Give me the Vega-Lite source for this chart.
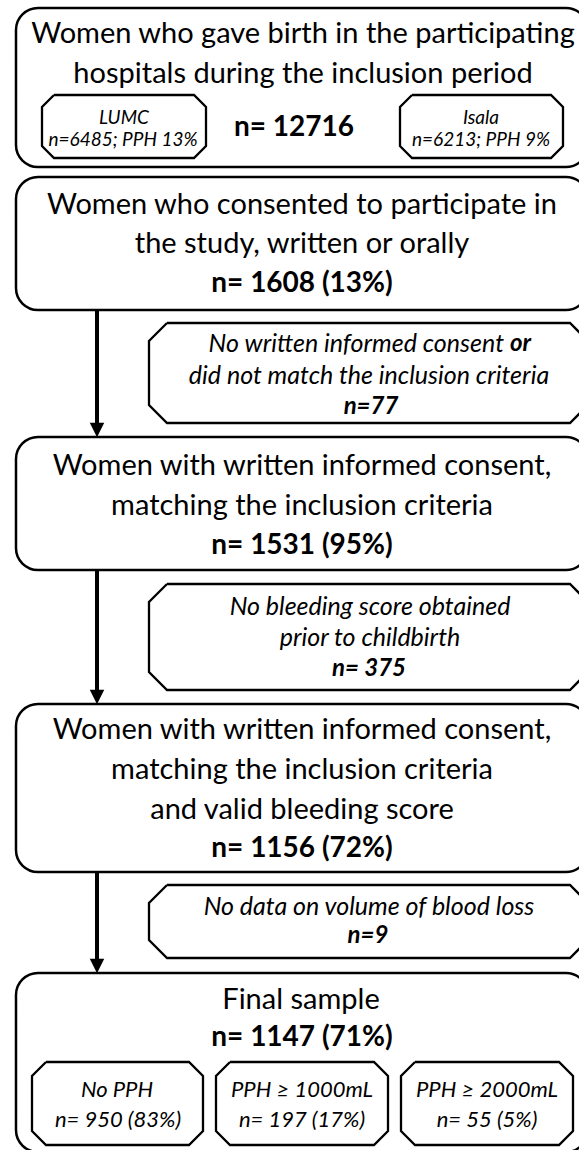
{
  "$schema": "https://vega.github.io/schema/vega-lite/v6.json",
  "width": 579,
  "height": 1150,
  "autosize": {"type": "fit", "contains": "padding"},
  "padding": 0,
  "background": "white",
  "config": {"view": {"stroke": null}, "font": "Lato"},
  "datasets": {
    "boxes": [
      {"id": "b1", "x1": 16, "x2": 588, "y1": 8, "y2": 167},
      {"id": "b2", "x1": 16, "x2": 588, "y1": 177, "y2": 310},
      {"id": "b3", "x1": 16, "x2": 588, "y1": 437, "y2": 570},
      {"id": "b4", "x1": 16, "x2": 588, "y1": 704, "y2": 872},
      {"id": "b5", "x1": 16, "x2": 588, "y1": 973, "y2": 1152}
    ],
    "octs": [
      {"id": "lumc", "k": 0, "x": 54, "y": 95}, {"id": "lumc", "k": 1, "x": 194, "y": 95}, {"id": "lumc", "k": 2, "x": 206, "y": 107}, {"id": "lumc", "k": 3, "x": 206, "y": 146}, {"id": "lumc", "k": 4, "x": 194, "y": 158}, {"id": "lumc", "k": 5, "x": 54, "y": 158}, {"id": "lumc", "k": 6, "x": 42, "y": 146}, {"id": "lumc", "k": 7, "x": 42, "y": 107}, {"id": "lumc", "k": 8, "x": 54, "y": 95},
      {"id": "isala", "k": 0, "x": 412, "y": 95}, {"id": "isala", "k": 1, "x": 551, "y": 95}, {"id": "isala", "k": 2, "x": 563, "y": 107}, {"id": "isala", "k": 3, "x": 563, "y": 146}, {"id": "isala", "k": 4, "x": 551, "y": 158}, {"id": "isala", "k": 5, "x": 412, "y": 158}, {"id": "isala", "k": 6, "x": 400, "y": 146}, {"id": "isala", "k": 7, "x": 400, "y": 107}, {"id": "isala", "k": 8, "x": 412, "y": 95},
      {"id": "o2", "k": 0, "x": 167, "y": 323}, {"id": "o2", "k": 1, "x": 570, "y": 323}, {"id": "o2", "k": 2, "x": 588, "y": 341}, {"id": "o2", "k": 3, "x": 588, "y": 405}, {"id": "o2", "k": 4, "x": 570, "y": 423}, {"id": "o2", "k": 5, "x": 167, "y": 423}, {"id": "o2", "k": 6, "x": 149, "y": 405}, {"id": "o2", "k": 7, "x": 149, "y": 341}, {"id": "o2", "k": 8, "x": 167, "y": 323},
      {"id": "o3", "k": 0, "x": 167, "y": 584}, {"id": "o3", "k": 1, "x": 570, "y": 584}, {"id": "o3", "k": 2, "x": 588, "y": 602}, {"id": "o3", "k": 3, "x": 588, "y": 672}, {"id": "o3", "k": 4, "x": 570, "y": 690}, {"id": "o3", "k": 5, "x": 167, "y": 690}, {"id": "o3", "k": 6, "x": 149, "y": 672}, {"id": "o3", "k": 7, "x": 149, "y": 602}, {"id": "o3", "k": 8, "x": 167, "y": 584},
      {"id": "o4", "k": 0, "x": 167, "y": 885}, {"id": "o4", "k": 1, "x": 570, "y": 885}, {"id": "o4", "k": 2, "x": 588, "y": 903}, {"id": "o4", "k": 3, "x": 588, "y": 940}, {"id": "o4", "k": 4, "x": 570, "y": 958}, {"id": "o4", "k": 5, "x": 167, "y": 958}, {"id": "o4", "k": 6, "x": 149, "y": 940}, {"id": "o4", "k": 7, "x": 149, "y": 903}, {"id": "o4", "k": 8, "x": 167, "y": 885},
      {"id": "f1", "k": 0, "x": 46, "y": 1062}, {"id": "f1", "k": 1, "x": 189, "y": 1062}, {"id": "f1", "k": 2, "x": 203, "y": 1076}, {"id": "f1", "k": 3, "x": 203, "y": 1131}, {"id": "f1", "k": 4, "x": 189, "y": 1145}, {"id": "f1", "k": 5, "x": 46, "y": 1145}, {"id": "f1", "k": 6, "x": 32, "y": 1131}, {"id": "f1", "k": 7, "x": 32, "y": 1076}, {"id": "f1", "k": 8, "x": 46, "y": 1062},
      {"id": "f2", "k": 0, "x": 230, "y": 1062}, {"id": "f2", "k": 1, "x": 374, "y": 1062}, {"id": "f2", "k": 2, "x": 388, "y": 1076}, {"id": "f2", "k": 3, "x": 388, "y": 1131}, {"id": "f2", "k": 4, "x": 374, "y": 1145}, {"id": "f2", "k": 5, "x": 230, "y": 1145}, {"id": "f2", "k": 6, "x": 216, "y": 1131}, {"id": "f2", "k": 7, "x": 216, "y": 1076}, {"id": "f2", "k": 8, "x": 230, "y": 1062},
      {"id": "f3", "k": 0, "x": 415, "y": 1062}, {"id": "f3", "k": 1, "x": 559, "y": 1062}, {"id": "f3", "k": 2, "x": 573, "y": 1076}, {"id": "f3", "k": 3, "x": 573, "y": 1131}, {"id": "f3", "k": 4, "x": 559, "y": 1145}, {"id": "f3", "k": 5, "x": 415, "y": 1145}, {"id": "f3", "k": 6, "x": 401, "y": 1131}, {"id": "f3", "k": 7, "x": 401, "y": 1076}, {"id": "f3", "k": 8, "x": 415, "y": 1062}
    ],
    "arrows": [
      {"x": 97, "ys": 310, "ye": 437},
      {"x": 97, "ys": 570, "ye": 704},
      {"x": 97, "ys": 872, "ye": 973}
    ],
    "texts": [
      {"kind": "main", "x": 303, "y": 34, "t": "Women who gave birth in the participating"},
      {"kind": "main", "x": 303, "y": 74, "t": "hospitals during the inclusion period"},
      {"kind": "main", "x": 302, "y": 205, "t": "Women who consented to participate in"},
      {"kind": "main", "x": 302, "y": 244, "t": "the study, written or orally"},
      {"kind": "main", "x": 302, "y": 466, "t": "Women with written informed consent,"},
      {"kind": "main", "x": 302, "y": 506, "t": "matching the inclusion criteria"},
      {"kind": "main", "x": 302, "y": 730, "t": "Women with written informed consent,"},
      {"kind": "main", "x": 302, "y": 770, "t": "matching the inclusion criteria"},
      {"kind": "main", "x": 302, "y": 810, "t": "and valid bleeding score"},
      {"kind": "main", "x": 301, "y": 1000, "t": "Final sample"},
      {"kind": "mainb", "x": 294, "y": 128, "t": "n= 12716"},
      {"kind": "mainb", "x": 302, "y": 284, "t": "n= 1608 (13%)"},
      {"kind": "mainb", "x": 302, "y": 546, "t": "n= 1531 (95%)"},
      {"kind": "mainb", "x": 302, "y": 849, "t": "n= 1156 (72%)"},
      {"kind": "mainb", "x": 302, "y": 1038, "t": "n= 1147 (71%)"},
      {"kind": "subr", "x": 504, "y": 344, "t": "No written informed consent"},
      {"kind": "subbl", "x": 510, "y": 344, "t": "or"},
      {"kind": "sub", "x": 369, "y": 376, "t": "did not match the inclusion criteria"},
      {"kind": "subb", "x": 371, "y": 407, "t": "n=77"},
      {"kind": "sub", "x": 370, "y": 607, "t": "No bleeding score obtained"},
      {"kind": "sub", "x": 370, "y": 638, "t": "prior to childbirth"},
      {"kind": "subb", "x": 369, "y": 669, "t": "n= 375"},
      {"kind": "sub", "x": 369, "y": 907, "t": "No data on volume of blood loss"},
      {"kind": "subb", "x": 368, "y": 936, "t": "n=9"},
      {"kind": "small", "x": 124, "y": 118, "t": "LUMC"},
      {"kind": "small", "x": 123, "y": 140, "t": "n=6485; PPH 13%"},
      {"kind": "small", "x": 481, "y": 118, "t": "Isala"},
      {"kind": "small", "x": 481, "y": 140, "t": "n=6213; PPH 9%"},
      {"kind": "fin", "x": 117, "y": 1090, "t": "No PPH"},
      {"kind": "fin", "x": 118, "y": 1120, "t": "n= 950 (83%)"},
      {"kind": "fin", "x": 302, "y": 1090, "t": "PPH ≥ 1000mL"},
      {"kind": "fin", "x": 302, "y": 1120, "t": "n= 197 (17%)"},
      {"kind": "fin", "x": 487, "y": 1090, "t": "PPH ≥ 2000mL"},
      {"kind": "fin", "x": 487, "y": 1120, "t": "n= 55 (5%)"}
    ]
  },
  "layer": [
    {
      "data": {"name": "boxes"},
      "mark": {"type": "rect", "cornerRadius": 22, "fill": "white", "stroke": "black", "strokeWidth": 2.5, "clip": true},
      "encoding": {
        "x": {"field": "x1", "type": "quantitative", "scale": {"domain": [0, 579], "nice": false, "zero": false}, "axis": null},
        "x2": {"field": "x2"},
        "y": {"field": "y1", "type": "quantitative", "scale": {"domain": [0, 1150], "nice": false, "zero": false, "reverse": true}, "axis": null},
        "y2": {"field": "y2"}
      }
    },
    {
      "data": {"name": "octs"},
      "mark": {"type": "line", "color": "black", "strokeWidth": 2.3, "strokeJoin": "miter", "clip": true},
      "encoding": {
        "x": {"field": "x", "type": "quantitative", "axis": null},
        "y": {"field": "y", "type": "quantitative", "axis": null},
        "detail": {"field": "id"},
        "order": {"field": "k", "type": "quantitative"}
      }
    },
    {
      "data": {"name": "arrows"},
      "mark": {"type": "rule", "color": "black", "strokeWidth": 4, "y2Offset": -8},
      "encoding": {
        "x": {"field": "x", "type": "quantitative", "axis": null},
        "y": {"field": "ys", "type": "quantitative", "axis": null},
        "y2": {"field": "ye"}
      }
    },
    {
      "data": {"name": "arrows"},
      "mark": {"type": "point", "shape": "M-1,-1L1,-1L0,1Z", "size": 210, "filled": true, "color": "black", "opacity": 1, "yOffset": -7},
      "encoding": {
        "x": {"field": "x", "type": "quantitative", "axis": null},
        "y": {"field": "ye", "type": "quantitative", "axis": null}
      }
    },
    {
      "data": {"name": "texts"},
      "transform": [{"filter": "datum.kind === 'main'"}],
      "mark": {"type": "text", "font": "Lato", "fontSize": 29, "align": "center", "baseline": "middle", "color": "black"},
      "encoding": {
        "x": {"field": "x", "type": "quantitative", "axis": null},
        "y": {"field": "y", "type": "quantitative", "axis": null},
        "text": {"field": "t"}
      }
    },
    {
      "data": {"name": "texts"},
      "transform": [{"filter": "datum.kind === 'mainb'"}],
      "mark": {"type": "text", "font": "Lato", "fontSize": 28, "fontWeight": "bold", "align": "center", "baseline": "middle", "color": "black"},
      "encoding": {
        "x": {"field": "x", "type": "quantitative", "axis": null},
        "y": {"field": "y", "type": "quantitative", "axis": null},
        "text": {"field": "t"}
      }
    },
    {
      "data": {"name": "texts"},
      "transform": [{"filter": "datum.kind === 'sub'"}],
      "mark": {"type": "text", "font": "Lato", "fontSize": 25, "fontStyle": "italic", "align": "center", "baseline": "middle", "color": "black"},
      "encoding": {
        "x": {"field": "x", "type": "quantitative", "axis": null},
        "y": {"field": "y", "type": "quantitative", "axis": null},
        "text": {"field": "t"}
      }
    },
    {
      "data": {"name": "texts"},
      "transform": [{"filter": "datum.kind === 'subr'"}],
      "mark": {"type": "text", "font": "Lato", "fontSize": 25, "fontStyle": "italic", "align": "right", "baseline": "middle", "color": "black"},
      "encoding": {
        "x": {"field": "x", "type": "quantitative", "axis": null},
        "y": {"field": "y", "type": "quantitative", "axis": null},
        "text": {"field": "t"}
      }
    },
    {
      "data": {"name": "texts"},
      "transform": [{"filter": "datum.kind === 'subbl'"}],
      "mark": {"type": "text", "font": "Lato", "fontSize": 24, "fontStyle": "italic", "fontWeight": "bold", "align": "left", "baseline": "middle", "color": "black"},
      "encoding": {
        "x": {"field": "x", "type": "quantitative", "axis": null},
        "y": {"field": "y", "type": "quantitative", "axis": null},
        "text": {"field": "t"}
      }
    },
    {
      "data": {"name": "texts"},
      "transform": [{"filter": "datum.kind === 'subb'"}],
      "mark": {"type": "text", "font": "Lato", "fontSize": 24, "fontStyle": "italic", "fontWeight": "bold", "align": "center", "baseline": "middle", "color": "black"},
      "encoding": {
        "x": {"field": "x", "type": "quantitative", "axis": null},
        "y": {"field": "y", "type": "quantitative", "axis": null},
        "text": {"field": "t"}
      }
    },
    {
      "data": {"name": "texts"},
      "transform": [{"filter": "datum.kind === 'small'"}],
      "mark": {"type": "text", "font": "Lato", "fontSize": 19, "fontStyle": "italic", "align": "center", "baseline": "middle", "color": "black"},
      "encoding": {
        "x": {"field": "x", "type": "quantitative", "axis": null},
        "y": {"field": "y", "type": "quantitative", "axis": null},
        "text": {"field": "t"}
      }
    },
    {
      "data": {"name": "texts"},
      "transform": [{"filter": "datum.kind === 'fin'"}],
      "mark": {"type": "text", "font": "Lato", "fontSize": 22, "fontStyle": "italic", "align": "center", "baseline": "middle", "color": "black"},
      "encoding": {
        "x": {"field": "x", "type": "quantitative", "axis": null},
        "y": {"field": "y", "type": "quantitative", "axis": null},
        "text": {"field": "t"}
      }
    }
  ]
}
